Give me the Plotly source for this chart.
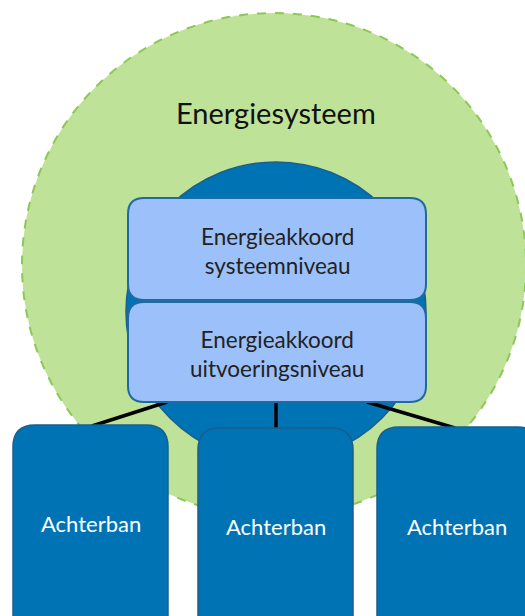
import plotly.graph_objects as go

# Diagram content
outer_label = ["Energiesysteem"]
top_box_labels = ["Energieakkoord<br>systeemniveau", "Energieakkoord<br>uitvoeringsniveau"]
base_labels = ["Achterban", "Achterban", "Achterban"]

W, H = 525, 616

def rrect(x0, y0, x1, y1, r):
    return (f"M {x0+r},{y0} L {x1-r},{y0} Q {x1},{y0} {x1},{y0+r} "
            f"L {x1},{y1-r} Q {x1},{y1} {x1-r},{y1} L {x0+r},{y1} "
            f"Q {x0},{y1} {x0},{y1-r} L {x0},{y0+r} Q {x0},{y0} {x0+r},{y0} Z")

shapes = []
# outer green circle
cx, cy, R = 274, 265, 252
shapes.append(dict(type="circle", xref="x", yref="y", x0=cx-R, x1=cx+R, y0=cy-R, y1=cy+R,
                   fillcolor="#BFE299", line=dict(color="#8DC755", width=2, dash="dash"), layer="below"))
# inner dark circle
cx2, cy2, R2 = 276, 312, 150
shapes.append(dict(type="circle", xref="x", yref="y", x0=cx2-R2, x1=cx2+R2, y0=cy2-R2, y1=cy2+R2,
                   fillcolor="#0073B5", line=dict(color="#1B5E8C", width=1.5)))

# connector lines
lines = [((167, 402), (92, 426)), ((276, 402), (276, 429)), ((367, 402), (455, 428))]
for (a, b) in lines:
    shapes.append(dict(type="line", xref="x", yref="y", x0=a[0], y0=a[1], x1=b[0], y1=b[1],
                       line=dict(color="black", width=3.5)))

# top boxes
top_boxes = [(128, 198, 426, 300), (128, 302, 426, 402)]
for (x0, y0, x1, y1) in top_boxes:
    shapes.append(dict(type="path", xref="x", yref="y", path=rrect(x0, y0, x1, y1, 16),
                       fillcolor="#9CC0F9", line=dict(color="#1F6AA0", width=2)))

# base boxes
base_boxes = [(13, 425, 168, 640), (198, 428, 353, 640), (377, 427, 540, 640)]
for (x0, y0, x1, y1) in base_boxes:
    shapes.append(dict(type="path", xref="x", yref="y", path=rrect(x0, y0, x1, y1, 22),
                       fillcolor="#0073B5", line=dict(color="#1B5E8C", width=1.5)))

FONT = "Lato, 'Open Sans', sans-serif"
annotations = [dict(x=276, y=112, xref="x", yref="y", text=outer_label[0], showarrow=False,
                    font=dict(family=FONT, size=29, color="#111111"))]
for (x0, y0, x1, y1), lab in zip(top_boxes, top_box_labels):
    annotations.append(dict(x=(x0+x1)/2, y=(y0+y1)/2 + 2, xref="x", yref="y", text=lab, showarrow=False,
                            font=dict(family=FONT, size=22.5, color="#222222")))
base_text_x = [91, 276, 457]
base_text_y = [523, 526, 526]
for lab, tx, ty in zip(base_labels, base_text_x, base_text_y):
    annotations.append(dict(x=tx, y=ty, xref="x", yref="y", text=lab, showarrow=False,
                            font=dict(family=FONT, size=22, color="white")))

fig = go.Figure()
fig.update_layout(width=W, height=H, margin=dict(l=0, r=0, t=0, b=0),
                  paper_bgcolor="white", plot_bgcolor="white",
                  xaxis=dict(range=[0, W], visible=False, fixedrange=True),
                  yaxis=dict(range=[H, 0], visible=False, fixedrange=True),
                  shapes=shapes, annotations=annotations, showlegend=False)
fig.write_html("out.html", config={"displayModeBar": False},
               post_script="document.body.style.margin='0';document.body.style.overflow='hidden';")
